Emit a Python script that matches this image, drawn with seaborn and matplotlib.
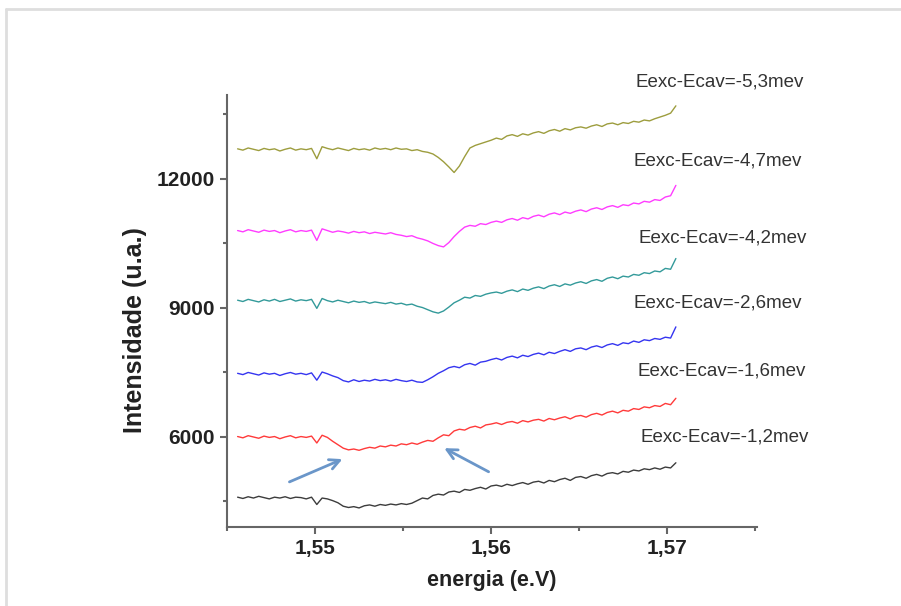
import numpy as np
import pandas as pd
import seaborn as sns
import matplotlib.pyplot as plt
from matplotlib.lines import Line2D

# -- values (energy grid step 0.0003 eV) --
energia = np.round(np.arange(1.5456, 1.57051, 0.0003), 4)

legendas = ["Eexc-Ecav=-1,2mev", "Eexc-Ecav=-1,6mev", "Eexc-Ecav=-2,6mev",
            "Eexc-Ecav=-4,2mev", "Eexc-Ecav=-4,7mev", "Eexc-Ecav=-5,3mev"]

int_12 = [4600, 4570, 4610, 4580, 4620, 4590, 4560, 4600, 4580, 4610, 4570, 4600, 4590, 4560, 4600,
          4430,
          4580, 4560, 4520, 4470,
          4390, 4360, 4380, 4350,
          4400, 4420, 4390, 4430, 4410, 4440, 4420, 4450, 4430, 4460,
          4520, 4580, 4560, 4640, 4670, 4650, 4720,
          4740, 4710, 4780, 4760, 4800, 4830, 4790, 4860,
          4880, 4850, 4900, 4870, 4910, 4940, 4900, 4950,
          4970, 4930, 4990, 4960, 5010, 5040, 4990, 5060,
          5080, 5040, 5100, 5130, 5090, 5150, 5170, 5140,
          5200, 5180, 5230, 5210, 5260, 5240, 5280, 5250,
          5300, 5280, 5400]

int_16 = [6010, 5980, 6030, 6000, 5970, 6020, 5990, 6010, 5960, 6000, 6030, 5980, 6010, 5990, 6020,
          5860,
          6040, 5990, 5900, 5820,
          5740, 5700, 5720, 5690, 5730,
          5760, 5740, 5790, 5770, 5810, 5790,
          5840, 5820, 5860, 5830, 5880,
          5920, 5900, 5980, 6050, 6030,
          6140, 6180, 6160, 6220, 6250, 6210, 6280, 6300,
          6330, 6290, 6340, 6360, 6320, 6380, 6350, 6390,
          6410, 6370, 6430, 6400, 6440, 6470, 6420, 6480,
          6500, 6460, 6520, 6550, 6510, 6570, 6600, 6560,
          6620, 6600, 6660, 6640, 6700, 6680, 6730, 6710,
          6780, 6750, 6900]

int_26 = [7480, 7450, 7500, 7470, 7440, 7490, 7460, 7480, 7430, 7470, 7500, 7460, 7480, 7450, 7490,
          7320,
          7510, 7470, 7420, 7380,
          7310, 7280, 7330, 7290, 7320, 7300, 7340, 7310,
          7330, 7300, 7340, 7310, 7290, 7320, 7280, 7270,
          7330, 7400, 7480, 7540, 7610,
          7640, 7610, 7680, 7710, 7670, 7740, 7760, 7800,
          7830, 7790, 7850, 7880, 7840, 7900, 7870, 7920,
          7950, 7910, 7970, 7940, 7990, 8030, 7990, 8050,
          8070, 8030, 8090, 8120, 8080, 8140, 8170, 8130,
          8190, 8170, 8230, 8200, 8260, 8240, 8290, 8270,
          8320, 8300, 8560]

int_42 = [9180, 9150, 9200, 9170, 9140, 9190, 9160, 9200, 9150, 9180, 9210, 9160, 9190, 9170, 9200,
          8990,
          9220, 9170, 9140, 9180,
          9150, 9120, 9160, 9130, 9150, 9110, 9140, 9120,
          9100, 9130, 9090, 9110, 9070, 9090, 9040, 9010,
          8960, 8910, 8880, 8930, 9020,
          9120, 9180, 9250, 9230, 9290, 9270, 9320, 9350,
          9370, 9340, 9390, 9420, 9380, 9440, 9410, 9460,
          9490, 9450, 9510, 9540, 9500, 9560, 9530, 9580,
          9610, 9570, 9630, 9660, 9620, 9690, 9720, 9680,
          9740, 9720, 9780, 9760, 9820, 9800, 9860, 9840,
          9920, 9900, 10150]

int_47 = [10800, 10770, 10820, 10790, 10760, 10810, 10780, 10800, 10750, 10790, 10820, 10770, 10800, 10780, 10810,
          10570,
          10840, 10800, 10760, 10790,
          10770, 10740, 10780, 10750, 10770, 10730, 10760, 10740,
          10720, 10750, 10710, 10690, 10660, 10680, 10630, 10600,
          10560, 10500, 10450, 10420, 10520,
          10660, 10780, 10880, 10920, 10900, 10960, 10940, 10990,
          11020, 10990, 11050, 11080, 11040, 11100, 11070, 11130,
          11160, 11120, 11180, 11210, 11170, 11230, 11200, 11250,
          11280, 11240, 11300, 11330, 11290, 11350, 11380, 11340,
          11400, 11380, 11440, 11420, 11480, 11460, 11520, 11500,
          11580, 11610, 11850]

int_53 = [12700, 12670, 12720, 12690, 12660, 12710, 12680, 12700, 12650, 12690, 12720, 12670, 12700, 12680, 12710,
          12470,
          12750, 12710, 12680, 12720,
          12690, 12660, 12710, 12680, 12700, 12670, 12720, 12690,
          12710, 12680, 12720, 12690, 12700, 12660, 12680, 12640,
          12620, 12580, 12500, 12400, 12280,
          12150, 12300, 12520, 12720, 12780, 12820, 12860, 12900,
          12950, 12920, 13000, 13030, 12990, 13050, 13020, 13070,
          13100, 13060, 13120, 13150, 13110, 13170, 13140, 13190,
          13210, 13180, 13230, 13260, 13220, 13280, 13300, 13260,
          13310, 13290, 13340, 13320, 13370, 13350, 13400, 13440,
          13480, 13530, 13700]

series = [int_12, int_16, int_26, int_42, int_47, int_53]
cores = ["#3c3c3c", "#ff3a3a", "#3535f0", "#339a9a", "#ff3cff", "#9d9d3e"]

df = pd.concat([pd.DataFrame({"energia": energia, "intensidade": s, "curva": lab})
                for s, lab in zip(series, legendas)], ignore_index=True)

# -- plot --
sns.set_style("ticks")
plt.rcParams["font.family"] = ["Liberation Sans", "DejaVu Sans"]

fig = plt.figure(figsize=(9.01, 6.06), dpi=100)
ax = fig.add_axes([0.252, 0.1304, 0.588, 0.7129])

sns.lineplot(data=df, x="energia", y="intensidade", hue="curva", palette=cores,
             hue_order=legendas, estimator=None, sort=False, lw=1.0, legend=False, ax=ax)

ax.set_xlim(1.545, 1.5751)
ax.set_ylim(3907, 13953)
ax.set_xticks([1.55, 1.56, 1.57])
ax.set_xticklabels(["1,55", "1,56", "1,57"])
ax.set_xticks([1.545, 1.555, 1.565, 1.575], minor=True)
ax.set_yticks([6000, 9000, 12000])
ax.set_yticks([4500, 7500, 10500, 13500], minor=True)
ax.tick_params(which="major", direction="out", length=5, width=1.5, color="#666666",
               labelsize=15, pad=4)
ax.tick_params(which="minor", direction="out", length=3, width=1.5, color="#666666")
for t in ax.get_xticklabels() + ax.get_yticklabels():
    t.set_fontweight("bold")
    t.set_color("#222222")

sns.despine(ax=ax)
for s in ["left", "bottom"]:
    ax.spines[s].set_color("#666666")
    ax.spines[s].set_linewidth(1.5)

ax.set_xlabel("energia (e.V)", fontsize=15.5, fontweight="bold", color="#222222", labelpad=8)
ax.set_ylabel("Intensidade (u.a.)", fontsize=18, fontweight="bold", color="#222222")
ax.yaxis.set_label_coords(-0.151, 0.456)

# curve labels on the right
label_pos = [(1.56847, 6000), (1.56830, 7535), (1.56807, 9116),
             (1.56835, 10628), (1.56807, 12419), (1.56818, 14256)]
for lab, (lx, ly) in zip(legendas, label_pos):
    ax.text(lx, ly, lab, fontsize=13.5, color="#333333", ha="left", va="center", clip_on=False)

# arrows pointing to the dips
seta = dict(arrowstyle="->", color="#6a96c9", lw=2, mutation_scale=18)
ax.annotate("", xy=(1.5517, 5510), xytext=(1.5484, 4930), arrowprops=seta)
ax.annotate("", xy=(1.5572, 5770), xytext=(1.5600, 5160), arrowprops=seta)

# light slide border
fig.add_artist(Line2D([6 / 901, 1.0], [1 - 9 / 606, 1 - 9 / 606], color="#dedede", lw=2))
fig.add_artist(Line2D([6 / 901, 6 / 901], [0.0, 1 - 9 / 606], color="#dedede", lw=2))

plt.savefig("out.png", dpi=100)
